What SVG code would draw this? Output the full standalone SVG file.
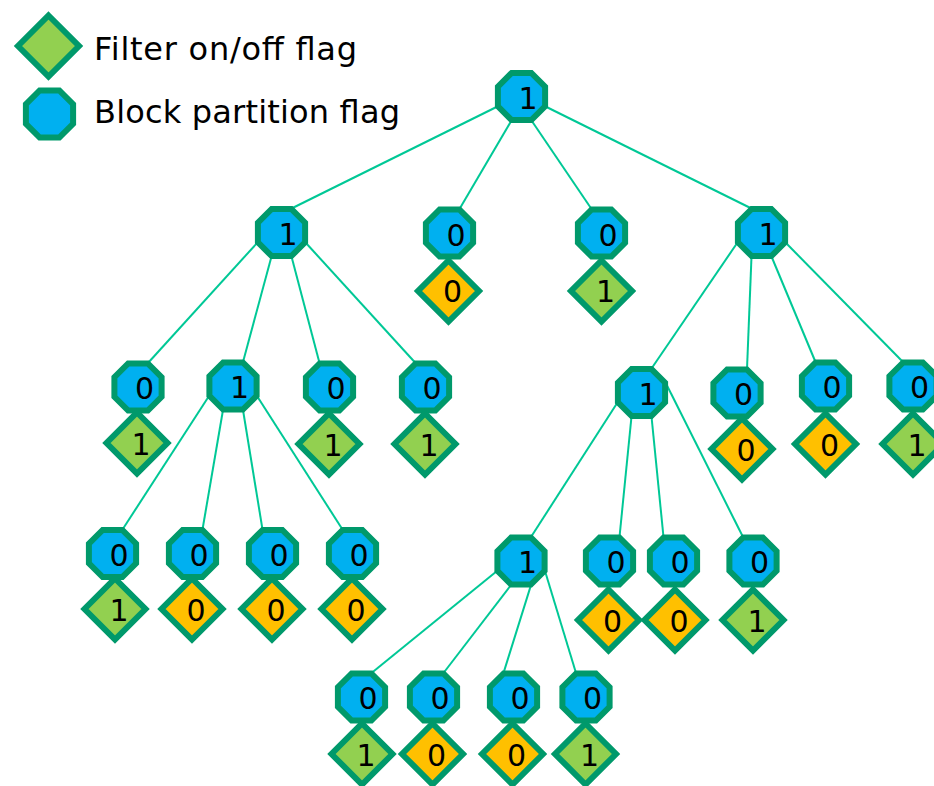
<svg xmlns="http://www.w3.org/2000/svg" xmlns:xlink="http://www.w3.org/1999/xlink" width="934" height="786" viewBox="0 0 934 786">
<defs>
<polygon id="oct" points="-9.8,-23.6 9.8,-23.6 23.6,-9.8 23.6,9.8 9.8,23.6 -9.8,23.6 -23.6,9.8 -23.6,-9.8"/>
<polygon id="dia" points="0,-30.5 30.5,0 0,30.5 -30.5,0"/>
<style>
.o{fill:#00B0F0;stroke:#00996B;stroke-width:6;stroke-linejoin:miter}
.g{fill:#92D050;stroke:#00996B;stroke-width:6}
.y{fill:#FFC000;stroke:#00996B;stroke-width:6}
.t{font-family:"DejaVu Sans",Verdana,sans-serif;font-size:30px;fill:#000;text-anchor:middle}
.lg{font-family:"DejaVu Sans",Verdana,sans-serif;font-size:32px;fill:#000}
#edges line{stroke:#00C896;stroke-width:2}
</style>
</defs>
<rect width="934" height="786" fill="#fff"/>
<g id="legend">
<use href="#dia" x="48.5" y="46" class="g"/>
<text class="lg" x="94" y="60" textLength="263">Filter on/off flag</text>
<use href="#oct" x="49.5" y="114" class="o"/>
<text class="lg" x="94" y="123" textLength="306">Block partition flag</text>
</g>
<g id="edges">
<line x1="497.5" y1="106.5" x2="291.5" y2="208.5"/>
<line x1="511.5" y1="120.5" x2="459.5" y2="209"/>
<line x1="531.5" y1="120.5" x2="591.5" y2="209"/>
<line x1="545.5" y1="106.5" x2="751.5" y2="208.5"/>
<line x1="257.5" y1="242.5" x2="148" y2="363"/>
<line x1="271.5" y1="256.5" x2="243" y2="362"/>
<line x1="291.5" y1="256.5" x2="319.5" y2="363"/>
<line x1="305.5" y1="242.5" x2="415.5" y2="363"/>
<line x1="209" y1="396" x2="122.5" y2="529.5"/>
<line x1="223" y1="410" x2="202.5" y2="529.5"/>
<line x1="243" y1="410" x2="262.5" y2="529.5"/>
<line x1="257" y1="396" x2="342.5" y2="529.5"/>
<line x1="737.5" y1="242.5" x2="651.5" y2="368.5"/>
<line x1="751.5" y1="256.5" x2="747" y2="369"/>
<line x1="771.5" y1="256.5" x2="815.5" y2="362"/>
<line x1="785.5" y1="242.5" x2="903" y2="362"/>
<line x1="617.5" y1="402.5" x2="531" y2="537"/>
<line x1="631.5" y1="416.5" x2="619.5" y2="537"/>
<line x1="651.5" y1="416.5" x2="663.5" y2="537"/>
<line x1="665.5" y1="382.5" x2="743" y2="537"/>
<line x1="497" y1="571" x2="371.5" y2="673"/>
<line x1="511" y1="585" x2="443.5" y2="673"/>
<line x1="531" y1="585" x2="503.5" y2="673"/>
<line x1="545" y1="571" x2="576" y2="673"/>
</g>
<g id="n-root"><use href="#oct" x="521.5" y="96.5" class="o"/><text class="t" x="528" y="109">1</text></g>
<g id="n-a"><use href="#oct" x="281.5" y="232.5" class="o"/><text class="t" x="288" y="245">1</text></g>
<g id="n-b"><use href="#oct" x="449.5" y="233" class="o"/><text class="t" x="456" y="246">0</text><use href="#dia" x="448.5" y="291" class="y"/><text class="t" x="452.5" y="302">0</text></g>
<g id="n-c"><use href="#oct" x="601.5" y="233" class="o"/><text class="t" x="608" y="246">0</text><use href="#dia" x="601.5" y="291" class="g"/><text class="t" x="605.5" y="302">1</text></g>
<g id="n-d"><use href="#oct" x="761.5" y="232.5" class="o"/><text class="t" x="768" y="245">1</text></g>
<g id="n-a1"><use href="#oct" x="138" y="387" class="o"/><text class="t" x="144.5" y="399">0</text><use href="#dia" x="137" y="443" class="g"/><text class="t" x="141" y="455">1</text></g>
<g id="n-a2"><use href="#oct" x="233" y="386" class="o"/><text class="t" x="239.5" y="398">1</text></g>
<g id="n-a3"><use href="#oct" x="329.5" y="387" class="o"/><text class="t" x="336" y="399">0</text><use href="#dia" x="329" y="444" class="g"/><text class="t" x="333" y="456">1</text></g>
<g id="n-a4"><use href="#oct" x="425.5" y="387" class="o"/><text class="t" x="432" y="399">0</text><use href="#dia" x="425" y="444" class="g"/><text class="t" x="429" y="456">1</text></g>
<g id="n-d1"><use href="#oct" x="641.5" y="392.5" class="o"/><text class="t" x="648" y="405">1</text></g>
<g id="n-d2"><use href="#oct" x="737" y="393" class="o"/><text class="t" x="743.5" y="405">0</text><use href="#dia" x="742" y="449" class="y"/><text class="t" x="746" y="461">0</text></g>
<g id="n-d3"><use href="#oct" x="825.5" y="386" class="o"/><text class="t" x="832" y="398">0</text><use href="#dia" x="825.5" y="444" class="y"/><text class="t" x="829.5" y="456">0</text></g>
<g id="n-d4"><use href="#oct" x="913" y="386" class="o"/><text class="t" x="919.5" y="398">0</text><use href="#dia" x="913" y="444" class="g"/><text class="t" x="917" y="456">1</text></g>
<g id="n-a2a"><use href="#oct" x="112.5" y="553.5" class="o"/><text class="t" x="119" y="565.5">0</text><use href="#dia" x="115" y="609" class="g"/><text class="t" x="119" y="621">1</text></g>
<g id="n-a2b"><use href="#oct" x="192.5" y="553.5" class="o"/><text class="t" x="199" y="565.5">0</text><use href="#dia" x="192" y="609" class="y"/><text class="t" x="196" y="621">0</text></g>
<g id="n-a2c"><use href="#oct" x="272.5" y="553.5" class="o"/><text class="t" x="279" y="565.5">0</text><use href="#dia" x="272" y="609" class="y"/><text class="t" x="276" y="621">0</text></g>
<g id="n-a2d"><use href="#oct" x="352.5" y="553.5" class="o"/><text class="t" x="359" y="565.5">0</text><use href="#dia" x="352" y="609" class="y"/><text class="t" x="356" y="621">0</text></g>
<g id="n-d1a"><use href="#oct" x="521" y="561" class="o"/><text class="t" x="527.5" y="573">1</text></g>
<g id="n-d1b"><use href="#oct" x="609.5" y="561" class="o"/><text class="t" x="616" y="573">0</text><use href="#dia" x="608.5" y="620" class="y"/><text class="t" x="612.5" y="632">0</text></g>
<g id="n-d1c"><use href="#oct" x="673.5" y="561" class="o"/><text class="t" x="680" y="573">0</text><use href="#dia" x="675" y="620" class="y"/><text class="t" x="679" y="632">0</text></g>
<g id="n-d1d"><use href="#oct" x="753" y="561" class="o"/><text class="t" x="759.5" y="573">0</text><use href="#dia" x="753" y="620" class="g"/><text class="t" x="757" y="632">1</text></g>
<g id="n-e1"><use href="#oct" x="361.5" y="697" class="o"/><text class="t" x="368" y="709">0</text><use href="#dia" x="362" y="754" class="g"/><text class="t" x="366" y="766">1</text></g>
<g id="n-e2"><use href="#oct" x="433.5" y="697" class="o"/><text class="t" x="440" y="709">0</text><use href="#dia" x="432.5" y="754" class="y"/><text class="t" x="436.5" y="766">0</text></g>
<g id="n-e3"><use href="#oct" x="513.5" y="697" class="o"/><text class="t" x="520" y="709">0</text><use href="#dia" x="512.5" y="754" class="y"/><text class="t" x="516.5" y="766">0</text></g>
<g id="n-e4"><use href="#oct" x="586" y="697" class="o"/><text class="t" x="592.5" y="709">0</text><use href="#dia" x="585.5" y="754" class="g"/><text class="t" x="589.5" y="766">1</text></g>
</svg>
